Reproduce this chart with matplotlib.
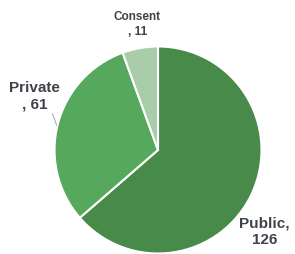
import matplotlib
matplotlib.use("Agg")
import matplotlib.pyplot as plt

# data
labels = ["Public", "Private", "Consent"]
values = [126, 61, 11]
colors = ["#478a4a", "#56a85d", "#a9cca9"]
label_texts = ["Public,\n126", "Private\n, 61", "Consent\n, 11"]

fig = plt.figure(figsize=(2.95, 2.54), dpi=100)
ax = fig.add_axes([0, 0, 1, 1])

wedges, _ = ax.pie(values, colors=colors, startangle=90, counterclock=False,
                   radius=1.0, wedgeprops=dict(edgecolor="white", linewidth=1.5))

ax.set_xlim(-1.527, 1.324)
ax.set_ylim(-1.005, 1.449)
ax.set_aspect("auto")
ax.axis("off")

fam = ["Liberation Sans", "DejaVu Sans"]
txt_color = "#3f4349"
ax.text(1.03, -0.79, label_texts[0], ha="center", va="center", fontsize=11,
        fontweight="bold", color=txt_color, family=fam, linespacing=1.25)
ax.text(-1.19, 0.52, label_texts[1], ha="center", va="center", fontsize=11,
        fontweight="bold", color=txt_color, family=fam, linespacing=1.3)
ax.text(-0.20, 1.21, label_texts[2], ha="center", va="center", fontsize=8.5,
        fontweight="bold", color=txt_color, family=fam, linespacing=1.35)

# small leader line for Private label
ax.plot([-1.02, -0.98], [0.35, 0.24], color="#b0b0b0", linewidth=0.8)

fig.savefig("out.png", dpi=100)
